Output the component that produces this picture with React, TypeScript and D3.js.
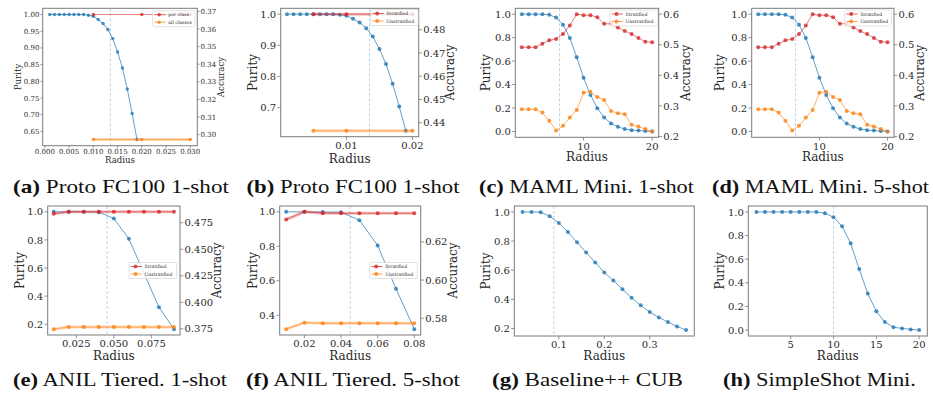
import React from 'react';
import * as d3 from 'd3';

// ---------------- data ----------------
const protoRadius = [0.001, 0.002, 0.003, 0.004, 0.005, 0.006, 0.007, 0.008, 0.009, 0.01, 0.011, 0.012, 0.013, 0.014, 0.015, 0.016, 0.017, 0.018, 0.019];
const protoPurity = [1.0, 1.0, 1.0, 1.0, 1.0, 1.0, 1.0, 1.0, 0.998, 0.995, 0.985, 0.973, 0.955, 0.928, 0.888, 0.84, 0.777, 0.704, 0.626];
const protoARadius = [0.01, 0.02, 0.03];
const protoAPerClass = [0.3682, 0.3682, 0.3682];
const protoAAllClasses = [0.2973, 0.2973, 0.2973];
const protoBRadius = [0.005, 0.01, 0.02];
const protoBStratified = [0.4867, 0.4867, 0.4867];
const protoBUnstratified = [0.4365, 0.4365, 0.4365];

const mamlRadius = [1, 2, 3, 4, 5, 6, 7, 8, 9, 10, 11, 12, 13, 14, 15, 16, 17, 18, 19, 20];
const mamlPurity = [1.0, 1.0, 1.0, 1.0, 0.994, 0.972, 0.91, 0.797, 0.633, 0.458, 0.311, 0.198, 0.119, 0.068, 0.04, 0.02, 0.011, 0.008, 0.004, 0.0];
const mamlStratified = [0.4917, 0.4917, 0.4917, 0.5036, 0.5144, 0.5187, 0.535, 0.5632, 0.6, 0.5967, 0.5967, 0.5902, 0.5686, 0.5686, 0.5567, 0.5447, 0.535, 0.522, 0.5101, 0.5079];
const mamlUnstratified = [0.2891, 0.2891, 0.2891, 0.2782, 0.2511, 0.2197, 0.2349, 0.262, 0.2869, 0.3432, 0.3465, 0.3291, 0.3194, 0.2836, 0.2761, 0.2728, 0.2381, 0.2327, 0.2241, 0.2165];

const anil1AccRadius = [0.01, 0.02, 0.03, 0.04, 0.05, 0.06, 0.07, 0.08, 0.09];
const anil1PurityRadius = [0.01, 0.02, 0.03, 0.04, 0.05, 0.06, 0.08, 0.09];
const anil1Purity = [1.0, 1.0, 1.0, 0.998, 0.953, 0.808, 0.321, 0.165];
const anil1Stratified = [0.4835, 0.4853, 0.4853, 0.4853, 0.4853, 0.4853, 0.4853, 0.4853, 0.4853];
const anil1Unstratified = [0.3747, 0.3766, 0.3766, 0.3766, 0.3766, 0.3766, 0.3766, 0.3766, 0.3766];

const anil5Radius = [0.01, 0.02, 0.03, 0.04, 0.05, 0.06, 0.07, 0.08];
const anil5Purity = [1.0, 1.0, 0.999, 0.998, 0.952, 0.805, 0.554, 0.319];
const anil5Stratified = [0.6317, 0.6357, 0.635, 0.635, 0.635, 0.635, 0.635, 0.635];
const anil5Unstratified = [0.5743, 0.5777, 0.5774, 0.5774, 0.5774, 0.5774, 0.5774, 0.5774];

const cubRadius = [0.02, 0.04, 0.06, 0.08, 0.1, 0.12, 0.14, 0.16, 0.18, 0.2, 0.22, 0.24, 0.26, 0.28, 0.3, 0.32, 0.34, 0.36, 0.38];
const cubPurity = [1.0, 1.0, 0.998, 0.97, 0.924, 0.862, 0.791, 0.722, 0.653, 0.584, 0.529, 0.469, 0.411, 0.359, 0.313, 0.276, 0.244, 0.214, 0.189];

const ssRadius = [1, 2, 3, 4, 5, 6, 7, 8, 9, 10, 11, 12, 13, 14, 15, 16, 17, 18, 19, 20];
const ssPurity = [1.0, 1.0, 1.0, 1.0, 1.0, 1.0, 1.0, 1.0, 0.989, 0.955, 0.878, 0.734, 0.516, 0.309, 0.159, 0.068, 0.025, 0.014, 0.006, 0.0];

const ticksA_x = [0.0, 0.005, 0.01, 0.015, 0.02, 0.025, 0.03];
const ticksA_y = [0.65, 0.7, 0.75, 0.8, 0.85, 0.9, 0.95, 1.0];
const ticksA_y2 = [0.3, 0.31, 0.32, 0.33, 0.34, 0.35, 0.36, 0.37];
const ticksB_x = [0.01, 0.02];
const ticksB_y = [0.7, 0.8, 0.9, 1.0];
const ticksB_y2 = [0.44, 0.45, 0.46, 0.47, 0.48];
const ticksC_x = [10, 20];
const ticksC_y = [0.0, 0.2, 0.4, 0.6, 0.8, 1.0];
const ticksC_y2 = [0.2, 0.3, 0.4, 0.5, 0.6];
const ticksE_x = [0.025, 0.05, 0.075];
const ticksE_y = [0.2, 0.4, 0.6, 0.8, 1.0];
const ticksE_y2 = [0.375, 0.4, 0.425, 0.45, 0.475];
const ticksF_x = [0.02, 0.04, 0.06, 0.08];
const ticksF_y = [0.4, 0.6, 0.8, 1.0];
const ticksF_y2 = [0.58, 0.6, 0.62];
const ticksG_x = [0.1, 0.2, 0.3];
const ticksG_y = [0.2, 0.4, 0.6, 0.8, 1.0];
const ticksH_x = [5, 10, 15, 20];
const ticksH_y = [0.0, 0.2, 0.4, 0.6, 0.8, 1.0];

const legendAB = ['per class', 'all classes'];
const legendStrat = ['Stratified', 'Unstratified'];

// ---------------- styles ----------------
const BLUE = '#1f77b4';
const RED = '#d62728';
const ORANGE = '#ff7f0e';
const AX_FONT = "'DejaVu Serif', 'Liberation Serif', serif";
const CAP_FONT = "'Liberation Serif', 'DejaVu Serif', serif";

type Series = { x: number[]; y: number[]; color: string; right?: boolean; band?: boolean };

type Cfg = {
  letter: string;
  title: string;
  box: { l: number; t: number; r: number; b: number };
  series: Series[];
  xTicks: number[]; xFmt: string;
  yTicks: number[]; yFmt: string;
  y2Ticks?: number[]; y2Fmt?: string;
  vline: number;
  legend?: { labels: string[]; x: number; y: number; w: number };
  small: boolean;
  ylabX: number; y2labX?: number; xlabY: number;
  cap: { cx: number; y: number; w: number };
};

const pad = (e: [number, number]) => {
  const r = e[1] - e[0];
  return [e[0] - 0.05 * r, e[1] + 0.05 * r];
};

const panels: Cfg[] = [
  {
    letter: 'a', title: 'Proto FC100 1-shot',
    box: { l: 42.7, t: 8.3, r: 197.3, b: 145.7 },
    series: [
      { x: protoRadius, y: protoPurity, color: BLUE },
      { x: protoARadius, y: protoAPerClass, color: RED, right: true },
      { x: protoARadius, y: protoAAllClasses, color: ORANGE, right: true, band: true },
    ],
    xTicks: ticksA_x, xFmt: '.3f', yTicks: ticksA_y, yFmt: '.2f', y2Ticks: ticksA_y2, y2Fmt: '.2f',
    vline: 0.0135, legend: { labels: legendAB, x: 152.7, y: 10.7, w: 42.3 }, small: true,
    ylabX: 21.2, y2labX: 223.5, xlabY: 163.3, cap: { cx: 121, y: 192.5, w: 216 },
  },
  {
    letter: 'b', title: 'Proto FC100 1-shot',
    box: { l: 280.7, t: 8.3, r: 418.7, b: 136.7 },
    series: [
      { x: protoRadius, y: protoPurity, color: BLUE },
      { x: protoBRadius, y: protoBStratified, color: RED, right: true, band: true },
      { x: protoBRadius, y: protoBUnstratified, color: ORANGE, right: true, band: true },
    ],
    xTicks: ticksB_x, xFmt: '.2f', yTicks: ticksB_y, yFmt: '.1f', y2Ticks: ticksB_y2, y2Fmt: '.2f',
    vline: 0.0135, legend: { labels: legendStrat, x: 370.7, y: 9.5, w: 47.5 }, small: false,
    ylabX: 256.5, y2labX: 454.3, xlabY: 162.9, cap: { cx: 353, y: 192.5, w: 213 },
  },
  {
    letter: 'c', title: 'MAML Mini. 1-shot',
    box: { l: 515.3, t: 8.3, r: 658.7, b: 137.3 },
    series: [
      { x: mamlRadius, y: mamlPurity, color: BLUE },
      { x: mamlRadius, y: mamlStratified, color: RED, right: true },
      { x: mamlRadius, y: mamlUnstratified, color: ORANGE, right: true },
    ],
    xTicks: ticksC_x, xFmt: 'd', yTicks: ticksC_y, yFmt: '.1f', y2Ticks: ticksC_y2, y2Fmt: '.1f',
    vline: 6.5, legend: { labels: legendStrat, x: 610, y: 10, w: 47.7 }, small: false,
    ylabX: 490.3, y2labX: 690, xlabY: 161.3, cap: { cx: 586.5, y: 192.5, w: 215 },
  },
  {
    letter: 'd', title: 'MAML Mini. 5-shot',
    box: { l: 751.7, t: 8.3, r: 894, b: 137.3 },
    series: [
      { x: mamlRadius, y: mamlPurity, color: BLUE },
      { x: mamlRadius, y: mamlStratified, color: RED, right: true },
      { x: mamlRadius, y: mamlUnstratified, color: ORANGE, right: true },
    ],
    xTicks: ticksC_x, xFmt: 'd', yTicks: ticksC_y, yFmt: '.1f', y2Ticks: ticksC_y2, y2Fmt: '.1f',
    vline: 6.5, legend: { labels: legendStrat, x: 844.7, y: 10, w: 46.6 }, small: false,
    ylabX: 724, y2labX: 923.7, xlabY: 161.3, cap: { cx: 820.5, y: 192.5, w: 217 },
  },
  {
    letter: 'e', title: 'ANIL Tiered. 1-shot',
    box: { l: 47.7, t: 206, r: 180, b: 335 },
    series: [
      { x: anil1PurityRadius, y: anil1Purity, color: BLUE },
      { x: anil1AccRadius, y: anil1Stratified, color: RED, right: true, band: true },
      { x: anil1AccRadius, y: anil1Unstratified, color: ORANGE, right: true, band: true },
    ],
    xTicks: ticksE_x, xFmt: '.3f', yTicks: ticksE_y, yFmt: '.1f', y2Ticks: ticksE_y2, y2Fmt: '.3f',
    vline: 0.0455, legend: { labels: legendStrat, x: 129, y: 262.5, w: 47.7 }, small: false,
    ylabX: 23.5, y2labX: 221.3, xlabY: 360.3, cap: { cx: 120, y: 386.2, w: 214 },
  },
  {
    letter: 'f', title: 'ANIL Tiered. 5-shot',
    box: { l: 279.7, t: 206, r: 420.7, b: 335 },
    series: [
      { x: anil5Radius, y: anil5Purity, color: BLUE },
      { x: anil5Radius, y: anil5Stratified, color: RED, right: true, band: true },
      { x: anil5Radius, y: anil5Unstratified, color: ORANGE, right: true, band: true },
    ],
    xTicks: ticksF_x, xFmt: '.2f', yTicks: ticksF_y, yFmt: '.1f', y2Ticks: ticksF_y2, y2Fmt: '.2f',
    vline: 0.045, legend: { labels: legendStrat, x: 369.7, y: 262.5, w: 47.6 }, small: false,
    ylabX: 256.5, y2labX: 456.5, xlabY: 360.3, cap: { cx: 353, y: 386.2, w: 214 },
  },
  {
    letter: 'g', title: 'Baseline++ CUB',
    box: { l: 514.3, t: 206, r: 694.3, b: 336 },
    series: [{ x: cubRadius, y: cubPurity, color: BLUE }],
    xTicks: ticksG_x, xFmt: '.1f', yTicks: ticksG_y, yFmt: '.1f',
    vline: 0.089, small: false,
    ylabX: 490.3, xlabY: 360.3, cap: { cx: 587.5, y: 386.2, w: 191 },
  },
  {
    letter: 'h', title: 'SimpleShot Mini.',
    box: { l: 748.3, t: 206, r: 927.3, b: 336 },
    series: [{ x: ssRadius, y: ssPurity, color: BLUE }],
    xTicks: ticksH_x, xFmt: 'd', yTicks: ticksH_y, yFmt: '.1f',
    vline: 10, small: false,
    ylabX: 724, xlabY: 360.3, cap: { cx: 819.5, y: 386.2, w: 193 },
  },
];

function Panel({ cfg }: { cfg: Cfg }) {
  const { box } = cfg;
  const tickFs = cfg.small ? 7 : 10;
  const labFs = cfg.small ? 8.6 : 12;
  const tl = cfg.small ? 2.3 : 3.3;
  const tp = cfg.small ? 1 : 1.2;
  const mr = cfg.small ? 1.7 : 2;
  const spine = '#7a7a7a';

  const allX = cfg.series.flatMap((s) => s.x);
  const x = d3.scaleLinear().domain(pad(d3.extent(allX) as [number, number])).range([box.l, box.r]);
  const leftS = cfg.series.filter((s) => !s.right);
  const rightS = cfg.series.filter((s) => s.right);
  const yL = d3.scaleLinear().domain(pad(d3.extent(leftS.flatMap((s) => s.y)) as [number, number])).range([box.b, box.t]);
  const yR = rightS.length
    ? d3.scaleLinear().domain(pad(d3.extent(rightS.flatMap((s) => s.y)) as [number, number])).range([box.b, box.t])
    : null;

  const drawSeries = (s: Series, i: number) => {
    const ys = s.right && yR ? yR : yL;
    const pts = s.x.map((xv, k) => [x(xv), ys(s.y[k])] as [number, number]);
    const path = d3.line()(pts) || '';
    const isBlue = s.color === BLUE;
    return (
      <g key={i}>
        {s.band && (
          <path d={path} fill="none" stroke={s.color} strokeOpacity={0.3} strokeWidth={3} />
        )}
        <path d={path} fill="none" stroke={s.color} strokeOpacity={isBlue ? 0.7 : 0.6} strokeWidth={1} />
        {pts.map((p, k) => (
          <circle key={k} cx={p[0]} cy={p[1]} r={mr} fill={s.color} fillOpacity={0.8} />
        ))}
      </g>
    );
  };

  const fx = d3.format(cfg.xFmt);
  const fy = d3.format(cfg.yFmt);
  const fy2 = cfg.y2Fmt ? d3.format(cfg.y2Fmt) : fy;
  const cy = (box.t + box.b) / 2;
  const cxm = (box.l + box.r) / 2;
  const xTickBase = cfg.small ? 7.9 : 12.2;
  const txt = { fontFamily: AX_FONT, fill: '#2a2a2a' } as const;

  return (
    <g>
      <line x1={x(cfg.vline)} x2={x(cfg.vline)} y1={box.t} y2={box.b}
        stroke={BLUE} strokeOpacity={0.35} strokeWidth={0.9} strokeDasharray="3,2" />
      {leftS.map((s, i) => drawSeries(s, i))}
      {rightS.map((s, i) => drawSeries(s, i + 10))}
      <rect x={box.l} y={box.t} width={box.r - box.l} height={box.b - box.t} fill="none" stroke={spine} strokeWidth={1} />
      {cfg.xTicks.map((t) => (
        <g key={'x' + t}>
          <line x1={x(t)} x2={x(t)} y1={box.b} y2={box.b + tl} stroke={spine} strokeWidth={0.8} />
          <text x={x(t)} y={box.b + xTickBase} fontSize={tickFs} textAnchor="middle" style={txt}>{fx(t)}</text>
        </g>
      ))}
      {cfg.yTicks.map((t) => (
        <g key={'y' + t}>
          <line x1={box.l - tl} x2={box.l} y1={yL(t)} y2={yL(t)} stroke={spine} strokeWidth={0.8} />
          <text x={box.l - tl - tp} y={yL(t)} dy="0.36em" fontSize={tickFs} textAnchor="end" style={txt}>{fy(t)}</text>
        </g>
      ))}
      {yR && cfg.y2Ticks && cfg.y2Ticks.map((t) => (
        <g key={'y2' + t}>
          <line x1={box.r} x2={box.r + tl} y1={yR(t)} y2={yR(t)} stroke={spine} strokeWidth={0.8} />
          <text x={box.r + tl + tp} y={yR(t)} dy="0.36em" fontSize={tickFs} textAnchor="start" style={txt}>{fy2(t)}</text>
        </g>
      ))}
      <text x={cxm} y={cfg.xlabY} fontSize={labFs} textAnchor="middle" style={txt}>Radius</text>
      <text transform={`translate(${cfg.ylabX},${cy}) rotate(-90)`} fontSize={labFs} textAnchor="middle" style={txt}>Purity</text>
      {cfg.y2labX !== undefined && (
        <text transform={`translate(${cfg.y2labX},${cy}) rotate(-90)`} fontSize={labFs} textAnchor="middle" style={txt}>Accuracy</text>
      )}
      {cfg.legend && (
        <g>
          <rect x={cfg.legend.x} y={cfg.legend.y} width={cfg.legend.w} height={16} rx={1.2}
            fill="#fff" fillOpacity={0.8} stroke="#d0d0d0" strokeWidth={0.6} />
          {cfg.legend.labels.map((lab, i) => {
            const ly = cfg.legend!.y + 4 + i * 7.5;
            const col = i === 0 ? RED : ORANGE;
            return (
              <g key={lab}>
                <line x1={cfg.legend!.x + 1.7} x2={cfg.legend!.x + 13} y1={ly} y2={ly} stroke={col} strokeOpacity={0.7} strokeWidth={1} />
                <circle cx={cfg.legend!.x + 6.5} cy={ly} r={mr} fill={col} fillOpacity={0.8} />
                <text x={cfg.legend!.x + 15.5} y={ly} dy="0.35em" fontSize={4.6} style={txt}>{lab}</text>
              </g>
            );
          })}
        </g>
      )}
      <text x={cfg.cap.cx} y={cfg.cap.y} fontSize={19} textAnchor="middle"
        style={{ fontFamily: CAP_FONT, fill: '#111' }}
        textLength={cfg.cap.w} lengthAdjust="spacingAndGlyphs">
        <tspan fontWeight="bold">({cfg.letter})</tspan>
        <tspan>{' ' + cfg.title}</tspan>
      </text>
    </g>
  );
}

export default function App() {
  return (
    <svg width={933} height={401} viewBox="0 0 933 401"
      style={{ position: 'absolute', left: 0, top: 0, background: '#fff', display: 'block' }}>
      <rect x={0} y={0} width={933} height={401} fill="#fff" />
      {panels.map((p) => (
        <Panel key={p.letter} cfg={p} />
      ))}
    </svg>
  );
}
